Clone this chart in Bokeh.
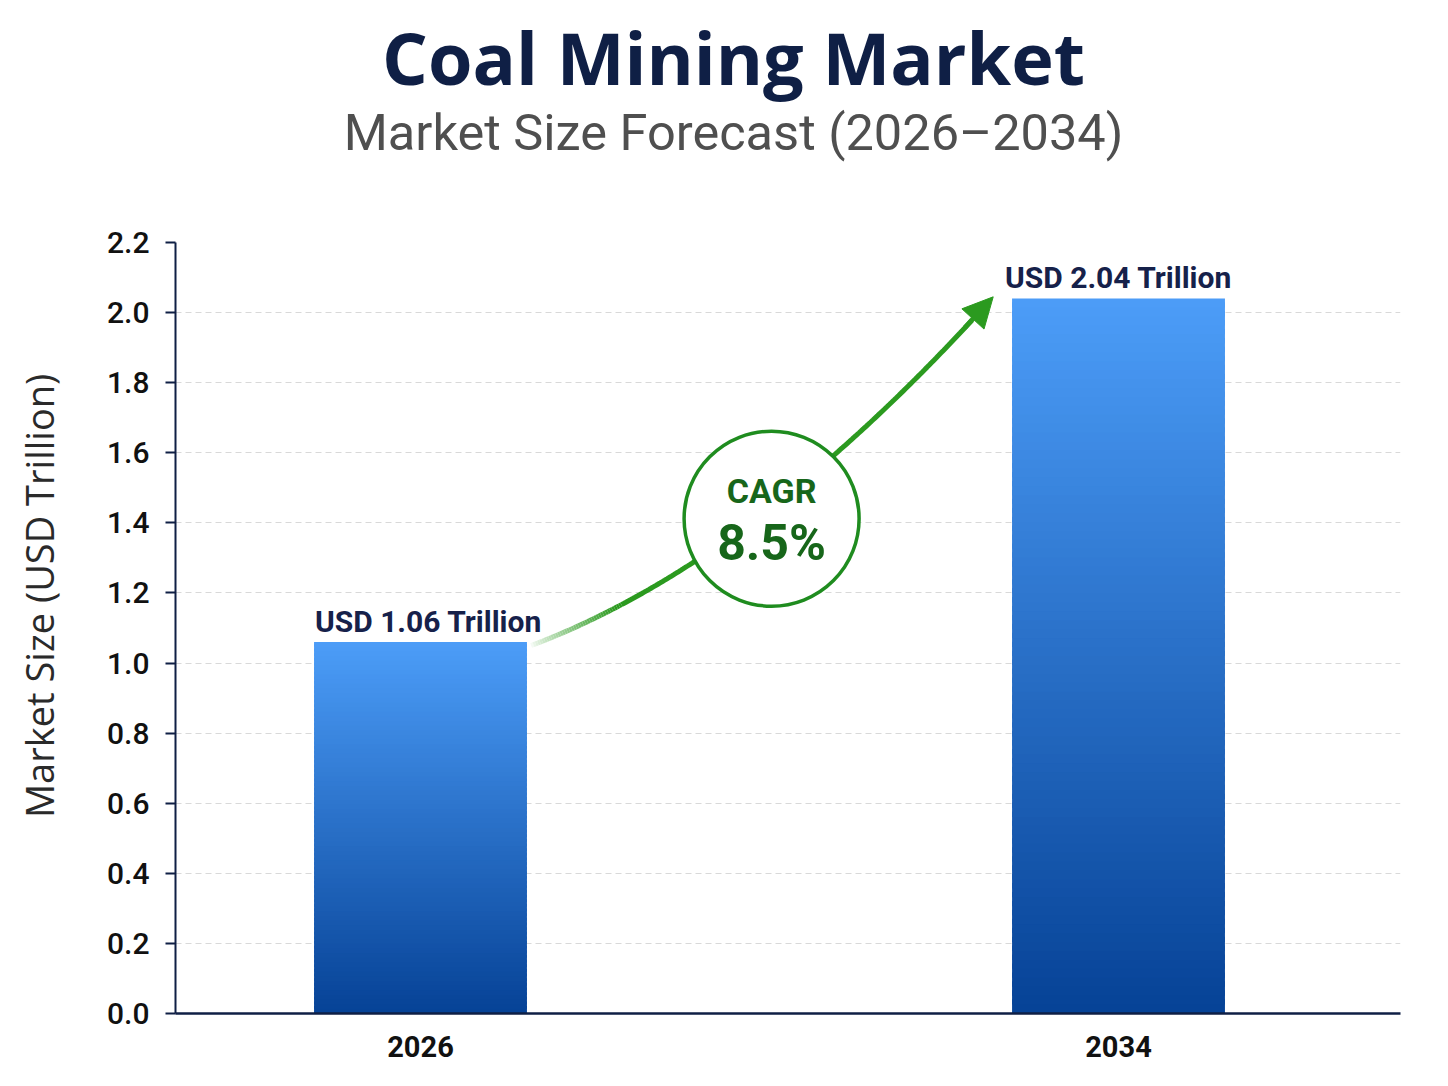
import numpy as np
from bokeh.plotting import figure
from bokeh.layouts import column, row
from bokeh.models import Range1d, FixedTicker, Arrow, NormalHead
from bokeh.core.properties import value
from bokeh.embed import file_html
from bokeh.resources import INLINE

# ---- data ----
years = ["2026", "2034"]
market_size = [1.06, 2.04]
bar_labels = ["USD 1.06 Trillion", "USD 2.04 Trillion"]
cagr_label = "CAGR"
cagr_value = "8.5%"
y_ticks = [0.0, 0.2, 0.4, 0.6, 0.8, 1.0, 1.2, 1.4, 1.6, 1.8, 2.0, 2.2]
title_text = "Coal Mining Market"
subtitle_text = "Market Size Forecast (2026\u20132034)"
y_label = "Market Size (USD Trillion)"

# ---- style ----
NAVY = "#0f1f45"
GREEN = "#2b9a1f"
DARK_GREEN = "#17661a"
TOP_C = np.array([0x4c, 0x9d, 0xf8])
BOT_C = np.array([0x06, 0x42, 0x96])
BAR_W = 0.305

W, H = 1448, 1086
HEAD_H = 222          # title strip height
LAB_W = 80            # y-label strip width
MAIN_H = H - HEAD_H


def blank(fig):
    fig.axis.visible = False
    fig.grid.visible = False
    fig.outline_line_color = None
    fig.background_fill_color = "white"
    fig.border_fill_color = "white"
    return fig


# ---- title strip ----
head = blank(figure(width=W, height=HEAD_H, output_backend="svg", toolbar_location=None,
                    x_range=Range1d(0, W), y_range=Range1d(HEAD_H, 0),
                    min_border=0))
head.text(x=[733], y=[56], text=[title_text], text_align="center", text_baseline="alphabetic",
          text_font=value("Open Sans"), text_font_size="72px", text_font_style="bold",
          text_color=NAVY)
head.text(x=[733], y=[132], text=[subtitle_text], text_align="center", text_baseline="alphabetic",
          text_font=value("Roboto"), text_font_size="50.5px", text_font_style="normal",
          text_color="#4f4f4f")

# ---- y-label strip ----
lab = blank(figure(width=LAB_W, height=MAIN_H, output_backend="svg", toolbar_location=None,
                   x_range=Range1d(0, LAB_W), y_range=Range1d(MAIN_H, 0), min_border=0))
lab.text(x=[38], y=[618 - HEAD_H], text=[y_label], text_align="center", text_baseline="middle",
         angle=np.pi / 2, text_font=value("Open Sans"), text_font_size="38px",
         text_color="#2a2a2a")

# ---- main chart ----
xs = list(range(len(years)))
p = figure(width=W - LAB_W, height=MAIN_H, output_backend="svg", toolbar_location=None,
           x_range=Range1d(-0.351, 1.404), y_range=Range1d(0, 2.2),
           min_border_left=175 - LAB_W, min_border_right=48,
           min_border_bottom=H - 1013, min_border_top=242 - HEAD_H)
p.outline_line_color = None
p.background_fill_color = "white"
p.border_fill_color = "white"

# gradient bars
N = 80
for xi, v in zip(xs, market_size):
    bottoms, tops, colors = [], [], []
    for k in range(N):
        f = (k + 0.5) / N
        c = BOT_C + (TOP_C - BOT_C) * f
        bottoms.append(v * k / N)
        tops.append(min(v, v * (k + 1.6) / N))
        colors.append("#%02x%02x%02x" % tuple(int(round(t)) for t in c))
    p.quad(left=[xi - BAR_W / 2] * N, right=[xi + BAR_W / 2] * N,
           bottom=bottoms, top=tops, fill_color=colors, line_color=None)

# bar value labels
p.text(x=xs, y=market_size, text=bar_labels, text_align="center",
       text_baseline="alphabetic", x_offset=[8, 0], y_offset=-21, text_font=value("Roboto"),
       text_font_size="30px", text_font_style="bold", text_color="#16214a")

# growth arrow (quadratic bezier from bar 1 top to bar 2 top)
P0 = np.array([xs[0] + BAR_W / 2 + 0.006, market_size[0] - 0.01])
P2 = np.array([xs[1] - BAR_W / 2 - 0.027, market_size[1] + 0.005])
P1 = np.array([0.48, 1.29])
t = np.linspace(0, 1, 201)
curve = ((1 - t) ** 2)[:, None] * P0 + (2 * (1 - t) * t)[:, None] * P1 + (t ** 2)[:, None] * P2
fade_n = 40
g = np.array([0x2b, 0x9a, 0x1f])
w = np.array([0xff, 0xff, 0xff])
seg_cols = []
for k in range(fade_n):
    f = min(1.0, (k / fade_n) ** 0.8 + 0.05)
    c = w + (g - w) * f
    seg_cols.append("#%02x%02x%02x" % tuple(int(round(v)) for v in c))
p.segment(x0=curve[:fade_n, 0], y0=curve[:fade_n, 1], x1=curve[1:fade_n + 1, 0],
          y1=curve[1:fade_n + 1, 1], line_color=seg_cols, line_width=5)
p.line(curve[fade_n:192, 0], curve[fade_n:192, 1], line_color=GREEN, line_width=5)
p.add_layout(Arrow(end=NormalHead(size=30, fill_color=GREEN, line_color=GREEN),
                   x_start=curve[188, 0], y_start=curve[188, 1],
                   x_end=curve[200, 0], y_end=curve[200, 1],
                   line_color=GREEN, line_width=5))

# CAGR badge
cx, cy = 0.503, 1.412
p.scatter(x=[cx], y=[cy], size=175, marker="circle", fill_color="white",
          line_color="#1f8c1f", line_width=3.5)
p.text(x=[cx], y=[cy], text=[cagr_label], text_align="center", text_baseline="middle",
       y_offset=-28, text_font=value("Roboto"), text_font_size="34px",
       text_font_style="bold", text_color=DARK_GREEN)
p.text(x=[cx], y=[cy], text=[cagr_value], text_align="center", text_baseline="middle",
       y_offset=24, text_font=value("Roboto"), text_font_size="50px",
       text_font_style="bold", text_color=DARK_GREEN)

# axes
p.yaxis.ticker = FixedTicker(ticks=y_ticks)
p.yaxis.major_label_overrides = {tk: "%.1f" % tk for tk in y_ticks}
p.yaxis.axis_line_color = NAVY
p.yaxis.axis_line_width = 2
p.yaxis.major_tick_line_color = NAVY
p.yaxis.major_tick_line_width = 2
p.yaxis.major_tick_out = 10
p.yaxis.major_tick_in = 0
p.yaxis.minor_tick_line_color = None
p.yaxis.major_label_text_font = "Roboto Medium, Roboto"
p.yaxis.major_label_text_font_size = "30px"
p.yaxis.major_label_text_color = "#111111"
p.yaxis.major_label_standoff = 16

p.xaxis.ticker = FixedTicker(ticks=xs)
p.xaxis.major_label_overrides = {x: y for x, y in zip(xs, years)}
p.xaxis.axis_line_color = NAVY
p.xaxis.axis_line_width = 2.5
p.xaxis.major_tick_line_color = None
p.xaxis.minor_tick_line_color = None
p.xaxis.major_label_text_font = "Roboto"
p.xaxis.major_label_text_font_size = "29px"
p.xaxis.major_label_text_font_style = "bold"
p.xaxis.major_label_text_color = "#111111"
p.xaxis.major_label_standoff = 16

p.xgrid.grid_line_color = None
p.ygrid.ticker = FixedTicker(ticks=y_ticks)
p.ygrid.grid_line_color = "#d9d9d9"
p.ygrid.grid_line_dash = "6 4"
p.ygrid.grid_line_width = 1

layout = column(head, row(lab, p, spacing=0), spacing=0)
open("out.html", "w").write(file_html(layout, INLINE))
